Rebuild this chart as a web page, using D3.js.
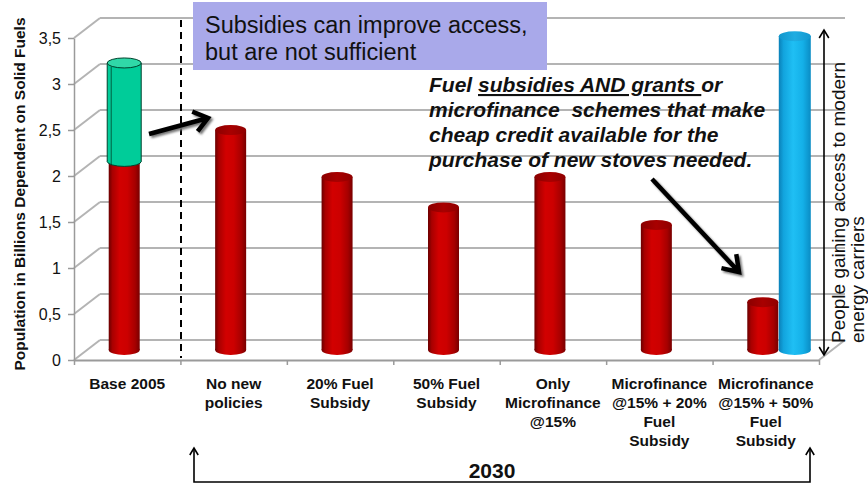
<!DOCTYPE html>
<html>
<head>
<meta charset="utf-8">
<script src="https://cdn.jsdelivr.net/npm/d3@7"></script>
<style>
  body { margin: 0; background: #fff; }
  svg { display: block; font-family: "Liberation Sans", Arial, sans-serif; }
</style>
</head>
<body>
<svg id="chart" width="868" height="483"></svg>
<script>
// Scenario categories (multi-line labels)
const categories = [
  ["Base 2005"],
  ["No new", "policies"],
  ["20% Fuel", "Subsidy"],
  ["50% Fuel", "Subsidy"],
  ["Only", "Microfinance", "@15%"],
  ["Microfinance", "@15% + 20%", "Fuel", "Subsidy"],
  ["Microfinance", "@15% + 50%", "Fuel", "Subsidy"]
];
// Population (billions) dependent on solid fuels
const solidFuelPopulation = [2.05, 2.39, 1.88, 1.55, 1.88, 1.36, 0.52];
// Extra population stacked on the 2005 base column
const stackedOnBase = [1.07, 0, 0, 0, 0, 0, 0];
// People gaining access to modern energy carriers
const modernAccess = [0, 0, 0, 0, 0, 0, 3.41];
const yTicks = [0, 0.5, 1, 1.5, 2, 2.5, 3, 3.5];
const yTickLabels = ["0", "0,5", "1", "1,5", "2", "2,5", "3", "3,5"];

const svg = d3.select("#chart");
const defs = svg.append("defs");

const plotLeft = 74, plotRight = 819, plotBottom = 360, plotTop = 38;
const depthX = 26, depthY = -20;          // back wall offset
const barDX = -3, barDY = -10;            // bars sit mid-depth
const barW = 31, ry = 5;

const x = d3.scaleBand().domain(d3.range(categories.length)).range([plotLeft, plotRight]).padding(0);
const xEdges = d3.scaleLinear().domain([0, categories.length]).range([plotLeft, plotRight]);
const y = d3.scaleLinear().domain([0, 3.5]).range([plotBottom, plotTop]);

// ---- gradients ----
function hGrad(id, stops) {
  const g = defs.append("linearGradient").attr("id", id)
    .attr("x1", 0).attr("x2", 1).attr("y1", 0).attr("y2", 0);
  stops.forEach(([o, c]) => g.append("stop").attr("offset", o).attr("stop-color", c));
}
hGrad("redBody", [[0, "#6a0000"], [0.12, "#a80000"], [0.35, "#d20000"], [0.6, "#cc0000"], [0.85, "#a60000"], [1, "#780000"]]);
hGrad("redTop", [[0, "#8a0000"], [0.5, "#a80000"], [1, "#900000"]]);
hGrad("blueBody", [[0, "#0a80b8"], [0.15, "#12a4de"], [0.45, "#1fbff4"], [0.75, "#14b0e8"], [1, "#0a8cc4"]]);
hGrad("blueTop", [[0, "#1296cc"], [0.5, "#20ade2"], [1, "#1398d0"]]);

const blur = defs.append("filter").attr("id", "soft").attr("x", "-20%").attr("y", "-20%").attr("width", "140%").attr("height", "140%");
blur.append("feGaussianBlur").attr("stdDeviation", 1.2);

// ---- walls & grid ----
const grid = svg.append("g").attr("stroke", "#b4b4b4").attr("stroke-width", 2).attr("fill", "none");
yTicks.forEach(t => {
  grid.append("line").attr("x1", plotLeft + depthX).attr("x2", plotRight + depthX)
    .attr("y1", y(t) + depthY).attr("y2", y(t) + depthY);
  grid.append("line").attr("x1", plotLeft).attr("y1", y(t))
    .attr("x2", plotLeft + depthX).attr("y2", y(t) + depthY);
});
grid.append("line").attr("x1", plotRight).attr("y1", plotBottom)
  .attr("x2", plotRight + depthX).attr("y2", plotBottom + depthY);

// ---- axes ----
const yAxis = svg.append("g").attr("transform", `translate(${plotLeft},0)`)
  .call(d3.axisLeft(y).tickValues(yTicks).tickFormat((d, i) => yTickLabels[i]).tickSize(6).tickSizeOuter(0).tickPadding(7));
yAxis.select(".domain").attr("stroke", "#9a9a9a").attr("stroke-width", 1.5);
yAxis.selectAll(".tick line").attr("stroke", "#9a9a9a").attr("stroke-width", 1.5);
yAxis.selectAll(".tick text").attr("font-size", 16).attr("fill", "#111")
  .attr("font-family", "'Liberation Sans', Arial, sans-serif");

const xAxis = svg.append("g").attr("transform", `translate(0,${plotBottom})`)
  .call(d3.axisBottom(xEdges).tickValues(d3.range(categories.length + 1)).tickFormat("").tickSize(5).tickSizeOuter(0));
xAxis.select(".domain").attr("stroke", "#9a9a9a").attr("stroke-width", 2);
xAxis.selectAll(".tick line").attr("stroke", "#9a9a9a").attr("stroke-width", 1.5);

// ---- category labels ----
const labels = svg.append("g").attr("font-size", 15.5).attr("font-weight", "bold")
  .attr("text-anchor", "middle").attr("fill", "#111");
categories.forEach((lines, i) => {
  const t = labels.append("text").attr("x", x(i) + x.bandwidth() / 2);
  lines.forEach((ln, k) => t.append("tspan").attr("x", x(i) + x.bandwidth() / 2).attr("y", 389 + k * 19).text(ln));
});

// ---- y title ----
svg.append("text").attr("transform", "translate(25,194) rotate(-90)")
  .attr("text-anchor", "middle").attr("font-size", 15.5).attr("font-weight", "bold").attr("fill", "#111")
  .text("Population in Billions Dependent on Solid Fuels");

// ---- dashed divider ----
svg.append("line").attr("x1", 181).attr("x2", 181).attr("y1", 20).attr("y2", 358)
  .attr("stroke", "#000").attr("stroke-width", 2).attr("stroke-dasharray", "7,5");

// ---- cylinders ----
function cylinder(g, cx, w, v0, v1, body, topFill, stroke) {
  const yb = y(v0) + barDY, yt = y(v1) + barDY;
  const grp = g.append("g");
  grp.append("ellipse").attr("cx", cx).attr("cy", yb).attr("rx", w / 2).attr("ry", ry)
    .attr("fill", body).attr("stroke", stroke || "none");
  grp.append("rect").attr("x", cx - w / 2).attr("y", yt).attr("width", w).attr("height", yb - yt)
    .attr("fill", body).attr("stroke", "none");
  if (stroke) {
    grp.append("line").attr("x1", cx - w / 2).attr("x2", cx - w / 2).attr("y1", yt).attr("y2", yb).attr("stroke", stroke);
    grp.append("line").attr("x1", cx + w / 2).attr("x2", cx + w / 2).attr("y1", yt).attr("y2", yb).attr("stroke", stroke);
    grp.append("line").attr("x1", cx - w / 2 + 4).attr("x2", cx - w / 2 + 4).attr("y1", yt + ry - 1).attr("y2", yb + ry - 1).attr("stroke", stroke).attr("stroke-width", 0.8);
  }
  grp.append("ellipse").attr("cx", cx).attr("cy", yt).attr("rx", w / 2).attr("ry", ry)
    .attr("fill", topFill).attr("stroke", stroke || "none");
}

const bars = svg.append("g");
solidFuelPopulation.forEach((v, i) => {
  const cx = x(i) + x.bandwidth() / 2 + barDX;
  cylinder(bars, cx, barW, 0, v, "url(#redBody)", "url(#redTop)");
  if (stackedOnBase[i] > 0) {
    cylinder(bars, cx, barW + 3, v, v + stackedOnBase[i], "#00cc99", "#30d8a8", "#00422c");
  }
});
modernAccess.forEach((v, i) => {
  if (v <= 0) return;
  const cx = x(i) + x.bandwidth() / 2 + barDX + barW + 1;
  cylinder(bars, cx, barW + 1, 0, v, "url(#blueBody)", "url(#blueTop)");
});

// ---- thick annotation arrows with soft shadow ----
function thickArrow(x1, y1, x2, y2, head, ang) {
  const a = Math.atan2(y2 - y1, x2 - x1);
  const p1 = [x2 - head * Math.cos(a - ang), y2 - head * Math.sin(a - ang)];
  const p2 = [x2 - head * Math.cos(a + ang), y2 - head * Math.sin(a + ang)];
  const d = `M${x1},${y1}L${x2},${y2}M${p1[0]},${p1[1]}L${x2},${y2}L${p2[0]},${p2[1]}`;
  svg.append("path").attr("d", d).attr("transform", "translate(2,2)")
    .attr("fill", "none").attr("stroke", "#777").attr("stroke-width", 4.5).attr("filter", "url(#soft)");
  svg.append("path").attr("d", d).attr("fill", "none").attr("stroke", "#000")
    .attr("stroke-width", 4.5).attr("stroke-linejoin", "miter");
}
thickArrow(149, 134, 208, 118, 17, 0.65);
thickArrow(652, 179, 739, 272, 18, 0.6);

// ---- info box ----
svg.append("rect").attr("x", 193).attr("y", 2).attr("width", 354).attr("height", 68).attr("fill", "#a9a9ea");
const box = svg.append("text").attr("font-size", 23.5).attr("fill", "#111");
box.append("tspan").attr("x", 205).attr("y", 33).text("Subsidies can improve access,");
box.append("tspan").attr("x", 205).attr("y", 60).text("but are not sufficient");

// ---- italic note ----
const note = svg.append("text").attr("font-size", 21).attr("font-weight", "bold")
  .attr("font-style", "italic").attr("fill", "#111").style("white-space", "pre");
const l1 = note.append("tspan").attr("x", 429).attr("y", 92);
l1.append("tspan").text("Fuel ");
l1.append("tspan").style("text-decoration", "underline").text("subsidies AND grants ");
l1.append("tspan").text("or");
note.append("tspan").attr("x", 429).attr("y", 117).text("microfinance  schemes that make");
note.append("tspan").attr("x", 429).attr("y", 142).text("cheap credit available for the");
note.append("tspan").attr("x", 429).attr("y", 167).text("purchase of new stoves needed.");

// ---- thin arrows ----
function openHead(g, tx, ty, dir, size) {
  // dir: -1 pointing up, 1 pointing down
  g.append("path").attr("d", `M${tx - size * 0.6},${ty - dir * size}L${tx},${ty}L${tx + size * 0.6},${ty - dir * size}`)
    .attr("fill", "none").attr("stroke", "#000").attr("stroke-width", 1.6);
}
const thin = svg.append("g");
thin.append("line").attr("x1", 824).attr("x2", 824).attr("y1", 30).attr("y2", 355)
  .attr("stroke", "#000").attr("stroke-width", 1.6);
openHead(thin, 824, 30, -1, 8);
openHead(thin, 824, 355, 1, 8);

thin.append("path").attr("d", "M194,448V482H810V448").attr("fill", "none")
  .attr("stroke", "#000").attr("stroke-width", 1.6);
openHead(thin, 194, 448, -1, 7);
openHead(thin, 810, 448, -1, 7);

svg.append("text").attr("x", 492).attr("y", 478).attr("text-anchor", "middle")
  .attr("font-size", 21).attr("font-weight", "bold").attr("fill", "#111").text("2030");

// ---- right side caption ----
svg.append("text").attr("transform", "translate(845,343) rotate(-90)")
  .attr("font-size", 19).attr("fill", "#111").text("People gaining access to modern");
svg.append("text").attr("transform", "translate(864,343) rotate(-90)")
  .attr("font-size", 19).attr("fill", "#111").text("energy carriers");
</script>
</body>
</html>
